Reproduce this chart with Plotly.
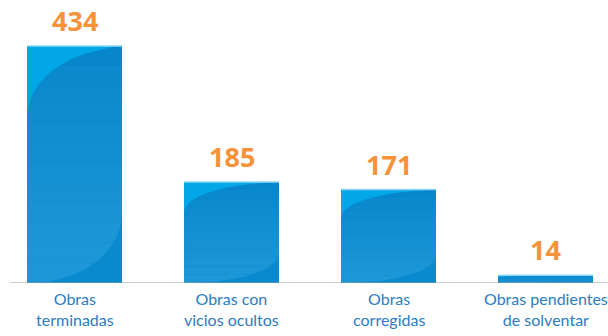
import plotly.graph_objects as go

# Datos
categorias = ["Obras<br>terminadas", "Obras con<br>vicios ocultos",
              "Obras<br>corregidas", "Obras pendientes<br>de solventar"]
valores = [434, 185, 171, 14]
etiquetas = ["434", "185", "171", "14"]

posiciones = list(range(len(valores)))
ancho_barra = 0.605


def mezcla(c1, c2, t):
    a = [int(c1[i:i + 2], 16) for i in (1, 3, 5)]
    b = [int(c2[i:i + 2], 16) for i in (1, 3, 5)]
    return "#" + "".join(f"{round(p + (q - p) * t):02x}" for p, q in zip(a, b))


fig = go.Figure()
fig.add_trace(go.Bar(
    x=posiciones, y=valores, width=ancho_barra,
    marker=dict(color="#0a88cc", line=dict(width=0)),
    hoverinfo="skip",
))

shapes = []
for xi, v in zip(posiciones, valores):
    x0 = xi - ancho_barra / 2
    x1 = xi + ancho_barra / 2
    w = x1 - x0
    # degradado vertical: oscuro arriba, más claro abajo
    n = 12
    for k in range(n):
        ya = v * k / n
        yb = v * (k + 1) / n
        t = 1 - (k + 0.5) / n
        shapes.append(dict(type="rect", xref="x", yref="y",
                           x0=x0, x1=x1, y0=ya, y1=yb,
                           fillcolor=mezcla("#0585ca", "#1e98d7", t ** 0.8 if t > 0 else 0),
                           line=dict(width=0), layer="above"))
    # brillo superior izquierdo
    path = (f"M {x0},{v} L {x1},{v} "
            f"C {x0 + 0.35 * w},{v * 0.97} {x0 + 0.02 * w},{v * 0.85} {x0},{v * 0.70} Z")
    shapes.append(dict(type="path", path=path, xref="x", yref="y",
                       fillcolor="#02a7e8", line=dict(width=0), layer="above"))
    # reflejo inferior derecho
    path2 = (f"M {x0},0 C {x0 + 0.55 * w},0 {x1},{v * 0.12} {x1},{v * 0.30} "
             f"L {x1},0 Z")
    shapes.append(dict(type="path", path=path2, xref="x", yref="y",
                       fillcolor="#0a8ace", line=dict(width=0), layer="above"))
    # borde claro superior
    shapes.append(dict(type="line", xref="x", yref="y",
                       x0=x0, x1=x1, y0=v, y1=v,
                       line=dict(color="#8fd6f6", width=1.5), layer="above"))

# Línea base
shapes.append(dict(type="line", xref="x", yref="y",
                   x0=-0.41, x1=3.4, y0=0, y1=0,
                   line=dict(color="#9a9a9a", width=1.2), layer="above"))

anotaciones = []
for xi, v, t in zip(posiciones, valores, etiquetas):
    anotaciones.append(dict(
        x=xi, y=v, xref="x", yref="y", text=f"<b>{t}</b>",
        showarrow=False, yanchor="bottom", yshift=5,
        font=dict(family="Open Sans", size=27, color="#f5923a"),
    ))
for xi, c in zip(posiciones, categorias):
    anotaciones.append(dict(
        x=xi, y=0, xref="x", yref="y", text=c,
        showarrow=False, yanchor="top", yshift=-4,
        font=dict(family="Lato", size=16, color="#2b7cc2"),
    ))

fig.update_layout(
    width=608, height=336,
    margin=dict(l=0, r=0, t=0, b=53),
    paper_bgcolor="white", plot_bgcolor="white",
    showlegend=False,
    xaxis=dict(range=[-0.4745, 3.398], visible=False, fixedrange=True),
    yaxis=dict(range=[0, 518], visible=False, fixedrange=True),
    shapes=shapes, annotations=anotaciones,
)

fig.write_html("out.html")
